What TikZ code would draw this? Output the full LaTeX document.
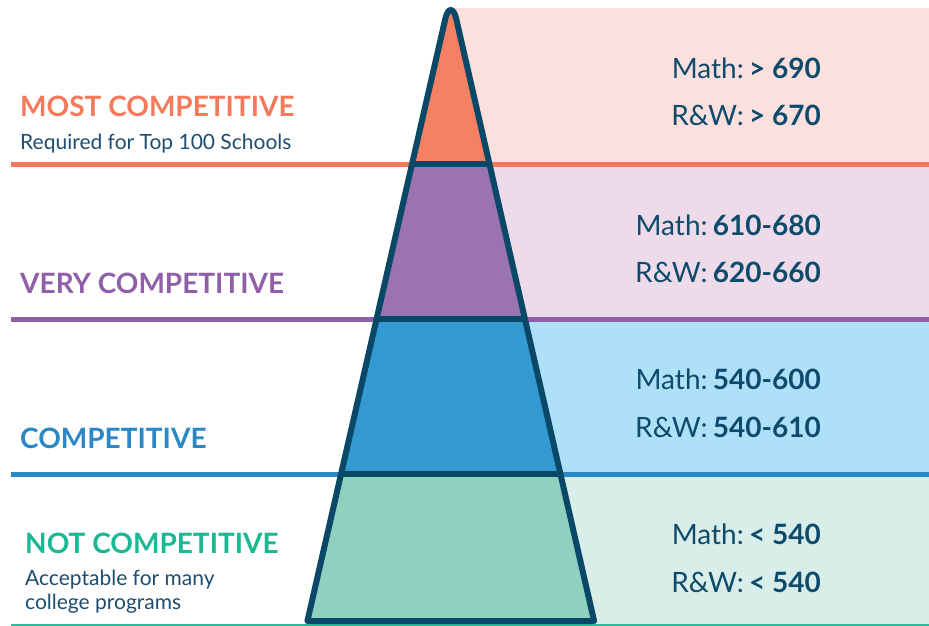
\documentclass[tikz,border=0pt]{standalone}
\usepackage{fontspec}
\setmainfont{Lato}
\definecolor{orangeline}{HTML}{F47A5B}
\definecolor{orangefill}{HTML}{F58063}
\definecolor{bgpink}{HTML}{FCE0DD}
\definecolor{purpleline}{HTML}{8F60A9}
\definecolor{purplefill}{HTML}{9A73B0}
\definecolor{bgpurple}{HTML}{EDDBEA}
\definecolor{blueline}{HTML}{2C87C5}
\definecolor{bluefill}{HTML}{339BD2}
\definecolor{bgblue}{HTML}{AEE0F8}
\definecolor{greenline}{HTML}{2DBB9A}
\definecolor{greenhead}{HTML}{1CB895}
\definecolor{greenfill}{HTML}{8FD0BF}
\definecolor{bggreen}{HTML}{DAEEE9}
\definecolor{navy}{HTML}{0A4868}
\definecolor{navytext}{HTML}{0D4A6B}
\definecolor{subc}{HTML}{1E4D6E}
\begin{document}
\begin{tikzpicture}[x=1pt,y=-1pt,
  head/.style={anchor=base west, inner sep=0pt, font=\fontsize{28}{30}\selectfont\bfseries},
  sub/.style={anchor=base west, inner sep=0pt, font=\fontsize{21}{25}\selectfont, text=subc},
  score/.style={anchor=base east, inner sep=0pt, font=\fontsize{28}{30}\selectfont, text=navytext},
  bandline/.style={line width=5pt},
  divider/.style={draw=navy, line width=6pt},
  outline/.style={draw=navy, line width=6pt, line join=round}]
\useasboundingbox (0,0) rectangle (929,626);
% right background bands
\fill[bgpink] (451,8) rectangle (929,164.5);
\fill[bgpurple] (451,164.5) rectangle (929,319.5);
\fill[bgblue] (451,319.5) rectangle (929,474);
\fill[bggreen] (451,474) rectangle (929,624);
% coloured rules
\draw[bandline, orangeline] (11,164.5) -- (929,164.5);
\draw[bandline, purpleline] (11,319.5) -- (929,319.5);
\draw[bandline, blueline] (11,474) -- (929,474);
\draw[line width=2.5pt, greenline] (11,625) -- (929,625);
% pyramid
\begin{scope}
\clip (307.4,621) -- (445.25,19) .. controls (448,7) and (453.5,7) .. (456.25,19) -- (594.1,621) -- cycle;
\fill[orangefill] (290,-10) rectangle (610,164);
\fill[purplefill] (290,164) rectangle (610,319);
\fill[bluefill] (290,319) rectangle (610,474);
\fill[greenfill] (290,474) rectangle (610,630);
\draw[divider] (290,164) -- (610,164);
\draw[divider] (290,319) -- (610,319);
\draw[divider] (290,474) -- (610,474);
\end{scope}
\path[outline] (307.4,621) -- (445.25,19) .. controls (448,7) and (453.5,7) .. (456.25,19) -- (594.1,621) -- cycle;
% left labels
\node[head, text=orangeline] (h1) at (20,116) {MOST COMPETITIVE};
\node[sub] (s1) at (20,149) {Required for Top 100 Schools};
\node[head, text=purpleline] (h2) at (20,293) {VERY COMPETITIVE};
\node[head, text=blueline] (h3) at (20,448) {COMPETITIVE};
\node[head, text=greenhead] (h4) at (25,553) {NOT COMPETITIVE};
\node[sub] (s4a) at (25,585) {Acceptable for many};
\node[sub] (s4b) at (25,609) {college programs};
% right scores
\node[score] (m1) at (821,78) {Math:\hspace{0.19em}\textbf{> 690}};
\node[score] (r1) at (821,125) {R\&W:\hspace{0.19em}\textbf{> 670}};
\node[score] (m2) at (821,235) {Math:\hspace{0.19em}\textbf{610-680}};
\node[score] (r2) at (821,282) {R\&W:\hspace{0.19em}\textbf{620-660}};
\node[score] (m3) at (821,389) {Math:\hspace{0.19em}\textbf{540-600}};
\node[score] (r3) at (821,437) {R\&W:\hspace{0.19em}\textbf{540-610}};
\node[score] (m4) at (821,544) {Math:\hspace{0.19em}\textbf{< 540}};
\node[score] (r4) at (821,592) {R\&W:\hspace{0.19em}\textbf{< 540}};
\end{tikzpicture}
\end{document}
